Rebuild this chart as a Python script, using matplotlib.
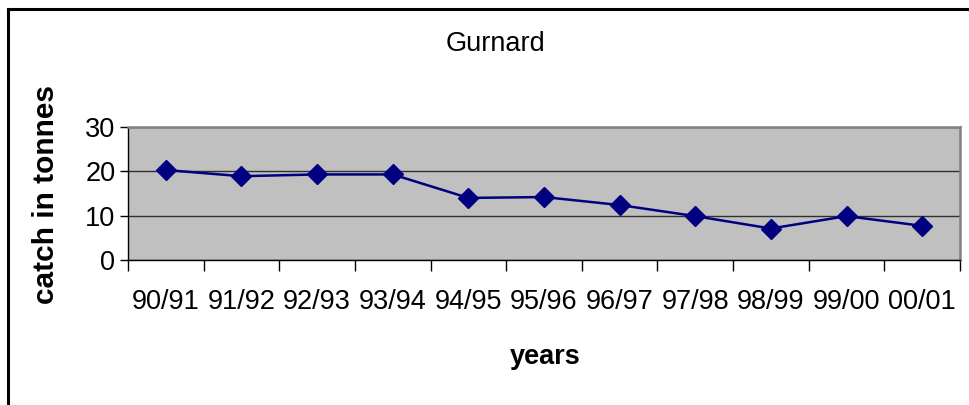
import matplotlib
matplotlib.use("Agg")
import matplotlib.pyplot as plt
from matplotlib.lines import Line2D

plt.rcParams["font.family"] = ["Liberation Sans", "DejaVu Sans"]

years = ["90/91", "91/92", "92/93", "93/94", "94/95", "95/96",
         "96/97", "97/98", "98/99", "99/00", "00/01"]
catch = [20.3, 18.9, 19.3, 19.3, 14.0, 14.2, 12.4, 9.9, 7.1, 9.9, 7.7]

fig = plt.figure(figsize=(9.7, 4.05), dpi=100)
ax = fig.add_axes([128 / 970, 1 - 260 / 405, 832 / 970, 133 / 405])
ax.set_facecolor("#C0C0C0")

x = list(range(len(years)))
ax.plot(x, catch, color="#000080", lw=1.8, marker="D", ms=10,
        markerfacecolor="#000080", markeredgecolor="#000080", zorder=3)

ax.set_xlim(-0.5, len(years) - 0.5)
ax.set_ylim(0, 30)
ax.set_yticks([0, 10, 20, 30])
ax.yaxis.grid(True, color="#303030", lw=1)
ax.set_axisbelow(True)

# labels sit in the middle of each category, tick marks on the boundaries
ax.set_xticks(x)
ax.set_xticklabels(years, fontsize=19.5)
ax.tick_params(axis="x", which="major", length=0, pad=21)
ax.set_xticks([i - 0.5 for i in range(len(years) + 1)], minor=True)
ax.tick_params(axis="x", which="minor", length=8, width=1, color="black")
ax.tick_params(axis="y", length=6, width=1, labelsize=19.5, pad=3)

for side in ("top", "right"):
    ax.spines[side].set_color("#808080")
    ax.spines[side].set_linewidth(1.8)
for side in ("left", "bottom"):
    ax.spines[side].set_color("black")
    ax.spines[side].set_linewidth(1)

fig.text(496 / 970, 1 - 44 / 405, "Gurnard", fontsize=19.5, ha="center", va="center")
fig.text(545 / 970, 1 - 357 / 405, "years", fontsize=19.5, fontweight="bold",
         ha="center", va="center")
fig.text(46 / 970, 1 - 195 / 405, "catch in tonnes", fontsize=21.5, fontweight="bold",
         rotation=90, ha="center", va="center")

# chart border (only the left and top edges fall inside the picture)
fig.add_artist(Line2D([8 / 970, 8 / 970], [0, 1 - 9 / 405], color="black", lw=2.2,
                      transform=fig.transFigure))
fig.add_artist(Line2D([8 / 970, 1], [1 - 9 / 405, 1 - 9 / 405], color="black", lw=2.2,
                      transform=fig.transFigure))

fig.savefig("out.png", dpi=100)
